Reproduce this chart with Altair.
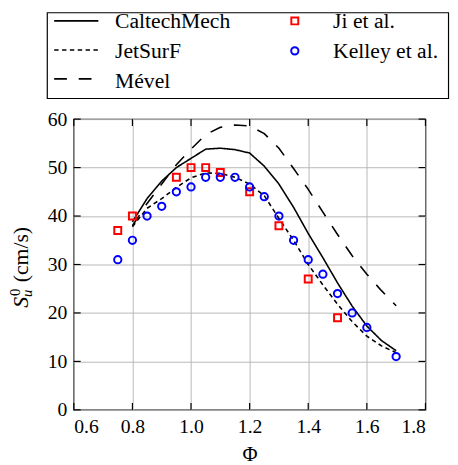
import altair as alt
import pandas as pd

# ---- data ----
phi_model = [0.80, 0.85, 0.90, 0.95, 1.00, 1.05, 1.10, 1.15, 1.20, 1.25,
             1.30, 1.35, 1.40, 1.45, 1.50, 1.55, 1.60, 1.65, 1.70]
caltech = [38.8, 43.6, 47.2, 50.0, 51.9, 53.8, 54.0, 53.7, 53.0, 50.3,
           46.6, 41.8, 36.4, 31.4, 26.2, 21.4, 17.3, 14.3, 12.2]
jetsurf = [37.8, 41.6, 43.6, 45.9, 47.9, 48.9, 48.8, 48.0, 46.6, 44.2,
           39.5, 35.0, 30.0, 25.8, 21.8, 18.2, 15.2, 13.2, 11.8]
mevel = [38.0, 42.6, 46.6, 50.6, 53.8, 56.8, 58.3, 58.8, 58.6, 57.0,
         54.0, 49.8, 45.5, 40.8, 36.2, 31.8, 28.0, 24.6, 21.5]

ji_phi = [0.75, 0.80, 0.95, 1.00, 1.05, 1.10, 1.20, 1.30, 1.40, 1.50]
ji_val = [37, 40, 48, 50, 50, 49, 45, 38, 27, 19]

kelley_phi = [0.75, 0.80, 0.85, 0.90, 0.95, 1.00, 1.05, 1.10, 1.15, 1.20,
              1.25, 1.30, 1.35, 1.40, 1.45, 1.50, 1.55, 1.60, 1.70]
kelley_val = [31, 35, 40, 42, 45, 46, 48, 48, 48, 46,
              44, 40, 35, 31, 28, 24, 20, 17, 11]

model_names = ["CaltechMech", "JetSurF", "Mével"]
exp_names = ["Ji et al.", "Kelley et al."]
x_ticks = [0.6, 0.8, 1.0, 1.2, 1.4, 1.6, 1.8]
y_ticks = [0, 10, 20, 30, 40, 50, 60]

# ---- styling ----
FONT = "Liberation Serif"
W, H = 358, 296
dashes = [[1, 0], [4.5, 3.5], [13, 12]]

lines_df = pd.concat([
    pd.DataFrame({"phi": phi_model, "S": vals, "model": name, "o": range(len(phi_model))})
    for name, vals in zip(model_names, [caltech, jetsurf, mevel])
])
ji_df = pd.DataFrame({"phi": ji_phi, "S": ji_val})
kel_df = pd.DataFrame({"phi": kelley_phi, "S": kelley_val})
xt_df = pd.DataFrame({"phi": x_ticks})
yt_df = pd.DataFrame({"S": y_ticks})
one = pd.DataFrame({"a": [0]})

xscale = alt.Scale(domain=[0.6, 1.8], nice=False, zero=False)
yscale = alt.Scale(domain=[0, 60], nice=False)
X = alt.X("phi:Q", scale=xscale,
          axis=alt.Axis(values=x_ticks, format=".1f", title="Φ", titlePadding=8,
                        labelFont=FONT, titleFont=FONT))
Y = alt.Y("S:Q", scale=yscale, axis=alt.Axis(values=y_ticks, title=None, labelFont=FONT))

lines = alt.Chart(lines_df).mark_line(color="black", strokeWidth=1.6).encode(
    x=X, y=Y,
    strokeDash=alt.StrokeDash("model:N", scale=alt.Scale(domain=model_names, range=dashes), legend=None),
    order="o:Q",
)
ji = alt.Chart(ji_df).mark_point(shape="square", filled=False, color="#ff0000",
                                 strokeWidth=2, size=50, opacity=1).encode(x=X, y=Y)
kel = alt.Chart(kel_df).mark_point(shape="circle", filled=False, color="#0000ff",
                                   strokeWidth=2, size=55, opacity=1).encode(x=X, y=Y)

# inward ticks on all sides
tk = dict(color="black", strokeWidth=1.2)
ticks = [
    alt.Chart(xt_df).mark_rule(**tk).encode(x=alt.X("phi:Q", scale=xscale), y=alt.value(H), y2=alt.value(H - 7)),
    alt.Chart(xt_df).mark_rule(**tk).encode(x=alt.X("phi:Q", scale=xscale), y=alt.value(0), y2=alt.value(7)),
    alt.Chart(yt_df).mark_rule(**tk).encode(y=alt.Y("S:Q", scale=yscale), x=alt.value(0), x2=alt.value(7)),
    alt.Chart(yt_df).mark_rule(**tk).encode(y=alt.Y("S:Q", scale=yscale), x=alt.value(W), x2=alt.value(W - 7)),
]

# ---- y-axis title S_u^0 (cm/s) ----
ytitle = [
    alt.Chart(one).mark_text(text="S", angle=270, align="left", baseline="alphabetic",
                             font=FONT, fontSize=22, fontStyle="italic", color="black")
    .encode(x=alt.value(-47), y=alt.value(192)),
    alt.Chart(one).mark_text(text="0", angle=270, align="left", baseline="alphabetic",
                             font=FONT, fontSize=15, color="black")
    .encode(x=alt.value(-55), y=alt.value(180)),
    alt.Chart(one).mark_text(text="u", angle=270, align="left", baseline="alphabetic",
                             font=FONT, fontSize=15, fontStyle="italic", color="black")
    .encode(x=alt.value(-43), y=alt.value(181)),
    alt.Chart(one).mark_text(text="(cm/s)", angle=270, align="left", baseline="alphabetic",
                             font=FONT, fontSize=22, color="black")
    .encode(x=alt.value(-47), y=alt.value(166)),
]

# ---- legend (box above the plot) ----
OX, OY = 75, 117  # page position of plot origin
legend = [
    alt.Chart(one).mark_rect(fill="white", stroke="black", strokeWidth=1.2).encode(
        x=alt.value(48 - OX), x2=alt.value(456.5 - OX), y=alt.value(8.7 - OY), y2=alt.value(96 - OY)),
]
line_rows = [17.0, 46.7, 76.0]
text_rows = [24.0, 54.5, 85.0]
for name, dash, ly, ty in zip(model_names, dashes, line_rows, text_rows):
    legend.append(alt.Chart(one).mark_rule(color="black", strokeWidth=1.6, strokeDash=dash).encode(
        x=alt.value(55 - OX), x2=alt.value(100 - OX), y=alt.value(ly - OY)))
    legend.append(alt.Chart(one).mark_text(text=name, align="left", baseline="alphabetic",
                                           font=FONT, fontSize=22, color="black").encode(
        x=alt.value(117 - OX), y=alt.value(ty - OY)))
legend.append(alt.Chart(one).mark_point(shape="square", filled=False, color="#ff0000",
                                        strokeWidth=2, size=50, opacity=1).encode(
    x=alt.value(300 - OX), y=alt.value(17 - OY)))
legend.append(alt.Chart(one).mark_point(shape="circle", filled=False, color="#0000ff",
                                        strokeWidth=2, size=55, opacity=1).encode(
    x=alt.value(300 - OX), y=alt.value(47.5 - OY)))
for name, ty in zip(exp_names, text_rows[:2]):
    legend.append(alt.Chart(one).mark_text(text=name, align="left", baseline="alphabetic",
                                           font=FONT, fontSize=22, color="black").encode(
        x=alt.value(339 - OX), y=alt.value(ty - OY)))

chart = alt.layer(lines, ji, kel, *ticks, *ytitle, *legend).properties(
    width=W, height=H,
    autosize=alt.AutoSizeParams(type="none"),
    padding={"left": 67, "top": 109, "right": 25, "bottom": 52},
).configure(
    font=FONT
).configure_view(
    stroke="black", strokeWidth=1.3
).configure_axis(
    labelFont=FONT, labelFontSize=20, labelColor="black",
    titleFont=FONT, titleFontSize=21, titleColor="black", titleFontWeight="normal",
    grid=True, gridColor="#b8b8b8", gridWidth=1,
    domain=False, ticks=False,
).configure_axisX(labelPadding=7).configure_axisY(labelPadding=7)

chart.save("out.html", embed_options={"renderer": "svg", "actions": False})
